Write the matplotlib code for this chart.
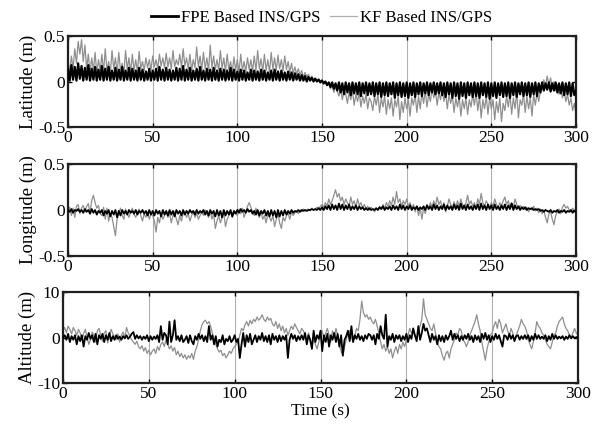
import numpy as np
import matplotlib
matplotlib.use("Agg")
import matplotlib.pyplot as plt

plt.rcParams['font.family'] = ['Liberation Serif', 'DejaVu Serif']

time_s = list(range(0, 301))

lat_kf = [0.22,0.10,0.28,0.14,0.36,0.20,0.44,0.30,0.46,0.22,
          0.40,0.14,0.30,0.10,0.26,0.12,0.32,0.09,0.24,0.12,
          0.30,0.10,0.36,0.12,0.22,0.09,0.34,0.14,0.26,0.10,
          0.32,0.12,0.20,0.08,0.34,0.13,0.26,0.10,0.30,0.12,
          0.24,0.11,0.33,0.14,0.22,0.12,0.26,0.15,0.24,0.13,
          0.28,0.16,0.24,0.14,0.30,0.17,0.26,0.15,0.31,0.16,
          0.26,0.14,0.34,0.16,0.24,0.18,0.30,0.15,0.36,0.17,
          0.26,0.14,0.30,0.12,0.24,0.15,0.38,0.16,0.28,0.13,
          0.32,0.14,0.26,0.12,0.40,0.15,0.28,0.13,0.24,0.12,
          0.34,0.14,0.26,0.11,0.30,0.13,0.22,0.10,0.27,0.12,
          0.24,0.10,0.30,0.12,0.22,0.11,0.26,0.13,0.24,0.11,
          0.28,0.12,0.34,0.14,0.25,0.11,0.30,0.12,0.24,0.10,
          0.32,0.13,0.26,0.12,0.29,0.14,0.24,0.12,0.28,0.13,
          0.22,0.10,0.20,0.09,0.16,0.08,0.14,0.07,0.12,0.05,
          0.10,0.05,0.08,0.03,0.06,0.02,0.04,0.01,0.03,0.00,
          0.02,-0.03,0.00,-0.04,-0.02,-0.08,-0.04,-0.12,-0.06,-0.10,
          -0.16,-0.08,-0.20,-0.10,-0.14,-0.24,-0.12,-0.20,-0.10,-0.26,
          -0.14,-0.22,-0.12,-0.28,-0.16,-0.24,-0.14,-0.30,-0.18,-0.22,
          -0.32,-0.16,-0.26,-0.14,-0.34,-0.18,-0.28,-0.16,-0.36,-0.20,
          -0.30,-0.18,-0.38,-0.20,-0.28,-0.16,-0.42,-0.22,-0.34,-0.18,
          -0.30,-0.20,-0.38,-0.18,-0.26,-0.14,-0.34,-0.16,-0.30,-0.12,
          -0.24,-0.10,-0.28,-0.14,-0.22,-0.08,-0.18,-0.10,-0.26,-0.12,
          -0.20,-0.08,-0.22,-0.12,-0.30,-0.14,-0.24,-0.16,-0.34,-0.18,
          -0.28,-0.16,-0.38,-0.20,-0.30,-0.18,-0.36,-0.20,-0.28,-0.14,
          -0.26,-0.12,-0.32,-0.16,-0.40,-0.20,-0.30,-0.16,-0.36,-0.18,
          -0.30,-0.20,-0.42,-0.22,-0.34,-0.18,-0.44,-0.24,-0.32,-0.16,
          -0.28,-0.14,-0.36,-0.18,-0.30,-0.12,-0.40,-0.20,-0.26,-0.14,
          -0.34,-0.16,-0.30,-0.18,-0.38,-0.14,-0.26,-0.12,-0.22,-0.10,
          -0.08,0.02,-0.06,0.06,-0.04,0.04,-0.08,0.00,-0.10,-0.04,
          -0.14,-0.06,-0.18,-0.10,-0.22,-0.14,-0.26,-0.18,-0.32,-0.24,
          -0.36]

lat_fpe = [0.14,0.01,0.18,0.02,0.16,0.01,0.20,0.03,0.17,0.01,
           0.15,0.02,0.18,0.01,0.14,0.02,0.16,0.01,0.13,0.02,
           0.17,0.01,0.14,0.02,0.16,0.01,0.12,0.02,0.15,0.01,
           0.13,0.02,0.16,0.01,0.12,0.02,0.15,0.01,0.14,0.02,
           0.12,0.01,0.15,0.02,0.13,0.01,0.11,0.02,0.14,0.01,
           0.12,0.02,0.14,0.01,0.16,0.02,0.13,0.01,0.15,0.02,
           0.13,0.01,0.12,0.02,0.15,0.01,0.14,0.02,0.17,0.01,
           0.13,0.02,0.15,0.01,0.12,0.02,0.14,0.01,0.16,0.02,
           0.12,0.01,0.14,0.02,0.13,0.01,0.15,0.02,0.12,0.01,
           0.14,0.02,0.13,0.01,0.12,0.02,0.15,0.01,0.13,0.02,
           0.11,0.01,0.13,0.02,0.12,0.01,0.10,0.02,0.13,0.01,
           0.12,0.02,0.11,0.01,0.13,0.02,0.12,0.01,0.10,0.02,
           0.12,0.01,0.13,0.02,0.11,0.01,0.12,0.02,0.10,0.01,
           0.11,0.02,0.10,0.01,0.09,0.02,0.08,0.01,0.07,0.01,
           0.06,0.00,0.05,0.01,0.04,0.00,0.03,0.00,0.02,-0.01,
           0.01,-0.02,0.00,-0.04,-0.01,-0.06,-0.01,-0.08,-0.02,-0.10,
           -0.01,-0.12,-0.02,-0.14,-0.01,-0.12,-0.02,-0.15,-0.01,-0.13,
           -0.02,-0.14,-0.01,-0.16,-0.02,-0.13,-0.01,-0.15,-0.02,-0.14,
           -0.01,-0.16,-0.02,-0.14,-0.01,-0.17,-0.02,-0.15,-0.01,-0.16,
           -0.02,-0.14,-0.01,-0.18,-0.02,-0.15,-0.01,-0.17,-0.02,-0.16,
           -0.01,-0.18,-0.02,-0.15,-0.01,-0.17,-0.02,-0.14,-0.01,-0.16,
           -0.02,-0.13,-0.01,-0.15,-0.02,-0.12,-0.01,-0.14,-0.02,-0.13,
           -0.01,-0.15,-0.02,-0.17,-0.01,-0.14,-0.02,-0.18,-0.01,-0.16,
           -0.02,-0.19,-0.01,-0.16,-0.02,-0.18,-0.01,-0.15,-0.02,-0.17,
           -0.01,-0.16,-0.02,-0.18,-0.01,-0.15,-0.02,-0.17,-0.01,-0.19,
           -0.02,-0.16,-0.01,-0.18,-0.02,-0.15,-0.01,-0.17,-0.02,-0.16,
           -0.01,-0.18,-0.02,-0.15,-0.01,-0.17,-0.02,-0.14,-0.01,-0.16,
           -0.02,-0.15,-0.01,-0.17,-0.02,-0.14,-0.01,-0.16,-0.02,-0.12,
           -0.01,-0.10,-0.02,-0.09,-0.01,-0.11,-0.02,-0.10,-0.01,-0.12,
           -0.02,-0.13,-0.01,-0.15,-0.02,-0.14,-0.01,-0.16,-0.02,-0.15,
           -0.10]

lon_kf = [-0.02,0.03,-0.06,0.02,-0.08,0.04,0.06,-0.04,0.02,0.05,
          -0.02,0.04,0.07,-0.03,0.10,0.16,0.08,0.02,0.05,-0.04,
          -0.06,0.03,-0.10,0.02,-0.12,-0.04,-0.08,-0.18,-0.28,-0.10,
          -0.04,0.02,-0.06,-0.10,0.01,-0.04,-0.08,-0.02,0.02,-0.05,
          -0.08,-0.02,0.01,-0.06,-0.12,-0.04,-0.08,-0.02,-0.10,-0.04,
          -0.06,-0.12,-0.24,-0.08,-0.14,-0.04,-0.10,-0.06,-0.02,-0.08,
          -0.04,-0.14,-0.06,-0.02,-0.10,-0.16,-0.06,-0.12,-0.04,-0.02,
          -0.08,-0.04,-0.12,-0.06,-0.02,-0.08,-0.04,-0.10,-0.06,-0.02,
          -0.06,0.00,-0.04,-0.08,-0.02,-0.10,-0.04,-0.20,-0.12,-0.06,
          -0.14,-0.08,-0.04,-0.18,-0.10,-0.06,-0.02,-0.08,-0.04,-0.02,
          -0.06,0.01,-0.04,0.02,-0.08,-0.02,0.04,0.08,0.03,-0.02,
          -0.06,0.02,-0.04,-0.08,-0.02,-0.10,-0.06,-0.14,-0.04,-0.08,
          -0.12,-0.06,-0.18,-0.10,-0.04,-0.14,-0.20,-0.08,-0.12,-0.06,
          -0.04,-0.10,-0.02,-0.06,-0.03,-0.01,-0.04,0.00,-0.02,0.01,
          -0.01,0.00,0.01,-0.01,0.02,0.00,0.01,0.03,0.02,0.04,
          0.06,0.03,0.08,0.04,0.12,0.06,0.10,0.16,0.22,0.14,
          0.18,0.10,0.14,0.06,0.12,0.08,0.04,0.14,0.06,0.10,
          0.03,0.12,0.05,0.08,0.02,0.06,0.01,0.04,0.00,0.03,
          0.01,-0.02,0.02,0.00,0.04,0.01,0.06,0.02,0.08,0.04,
          0.10,0.05,0.14,0.06,0.20,0.08,0.12,0.04,0.10,0.06,
          0.12,0.04,0.08,0.02,0.06,-0.02,0.04,-0.06,0.02,-0.10,
          0.03,-0.04,0.06,0.02,0.08,0.03,0.10,0.04,0.14,0.06,
          0.10,0.02,0.08,-0.02,0.04,0.12,0.06,0.02,0.09,0.03,
          0.10,0.04,0.12,0.06,0.02,0.08,0.16,0.06,0.10,0.04,
          0.08,0.02,0.12,0.06,0.18,0.08,0.04,0.10,0.06,0.02,
          0.08,0.04,0.12,0.06,0.02,0.08,0.04,0.10,0.14,0.06,
          0.10,0.04,0.08,0.03,0.12,0.06,0.02,0.05,0.01,0.04,
          0.00,0.03,-0.02,0.02,0.00,0.04,-0.01,0.02,-0.03,0.01,
          -0.04,0.00,-0.08,-0.14,-0.04,-0.02,-0.10,-0.16,-0.06,-0.02,
          0.01,-0.04,0.03,0.06,0.02,0.04,0.00,-0.02,0.02,0.00,
          -0.04]

lon_fpe = [0.00,-0.02,0.01,-0.03,0.00,-0.01,0.01,-0.02,0.00,-0.03,
           0.01,-0.02,0.00,-0.04,0.01,-0.03,0.00,-0.05,-0.01,-0.03,
           0.00,-0.06,-0.01,-0.04,0.00,-0.07,-0.01,-0.05,0.00,-0.08,
           -0.01,-0.06,0.00,-0.04,-0.01,-0.05,0.00,-0.03,-0.01,-0.04,
           0.00,-0.05,-0.01,-0.03,0.00,-0.04,-0.01,-0.06,0.00,-0.05,
           -0.01,-0.06,0.00,-0.04,-0.01,-0.07,0.00,-0.05,-0.01,-0.06,
           0.00,-0.05,-0.01,-0.07,0.00,-0.04,-0.01,-0.06,0.00,-0.05,
           -0.01,-0.04,0.00,-0.03,-0.01,-0.05,0.00,-0.04,-0.01,-0.03,
           0.00,-0.05,-0.01,-0.06,0.00,-0.04,-0.01,-0.07,0.00,-0.06,
           -0.01,-0.08,0.00,-0.06,-0.01,-0.05,0.00,-0.07,-0.01,-0.04,
           0.00,-0.03,0.01,-0.02,0.00,-0.03,0.01,-0.02,0.00,-0.04,
           -0.01,-0.05,0.00,-0.06,-0.01,-0.04,0.00,-0.06,-0.01,-0.07,
           0.00,-0.06,-0.01,-0.08,0.00,-0.07,-0.01,-0.06,0.00,-0.05,
           -0.01,-0.04,0.00,-0.03,-0.01,-0.02,0.00,-0.02,0.00,-0.01,
           0.00,-0.01,0.00,0.00,0.01,0.00,0.01,0.00,0.02,0.00,
           0.03,0.00,0.04,0.01,0.05,0.00,0.06,0.01,0.05,0.00,
           0.07,0.01,0.06,0.00,0.05,0.01,0.06,0.00,0.04,0.01,
           0.05,0.00,0.04,0.01,0.03,0.00,0.02,0.00,0.02,0.00,
           0.01,0.00,0.02,0.00,0.03,0.01,0.04,0.00,0.03,0.01,
           0.04,0.00,0.05,0.01,0.04,0.00,0.06,0.01,0.05,0.00,
           0.04,0.01,0.05,0.00,0.03,0.01,0.04,0.00,0.03,0.01,
           0.04,0.00,0.05,0.01,0.04,0.00,0.06,0.01,0.05,0.00,
           0.04,0.01,0.06,0.00,0.05,0.01,0.04,0.00,0.06,0.01,
           0.05,0.00,0.07,0.01,0.05,0.00,0.06,0.01,0.04,0.00,
           0.05,0.01,0.06,0.00,0.07,0.01,0.05,0.00,0.06,0.01,
           0.05,0.00,0.06,0.01,0.04,0.00,0.05,0.01,0.06,0.00,
           0.05,0.01,0.07,0.00,0.05,0.01,0.04,0.00,0.03,0.01,
           0.03,0.00,0.02,0.01,0.02,0.00,0.01,0.00,0.01,-0.01,
           0.00,-0.02,0.00,-0.01,-0.02,0.00,-0.03,-0.01,-0.02,0.00,
           -0.03,-0.01,-0.02,0.00,-0.03,-0.01,-0.02,0.00,-0.03,-0.01,
           -0.02]

alt_kf = [1.5,2.2,1.0,2.5,1.8,0.8,2.2,1.5,0.5,1.8,
          1.0,-0.5,0.8,1.8,0.2,-1.5,-0.5,1.2,0.5,-1.0,
          1.5,2.0,0.5,-0.8,1.0,1.5,-1.2,0.3,1.8,0.8,
          0.2,-0.5,0.8,-1.0,0.5,1.2,0.0,2.2,1.0,0.3,
          -0.5,-1.0,-1.5,-0.8,-2.0,-2.5,-1.8,-3.0,-2.2,-3.5,
          -2.8,-3.8,-3.0,-2.5,-3.5,-2.0,-2.8,-1.5,-1.0,-2.0,
          -0.5,-1.5,-2.5,-1.8,-3.0,-2.2,-3.8,-3.0,-4.2,-3.5,
          -4.5,-3.8,-4.8,-4.0,-4.5,-3.5,-4.8,-3.0,-2.0,-0.5,
          1.5,2.8,3.5,3.8,3.0,3.5,2.5,1.0,-0.5,-1.5,
          -2.5,-3.2,-2.8,-4.0,-3.5,-4.5,-3.8,-3.0,-3.5,-2.5,
          -2.0,-1.5,-1.0,0.5,2.0,1.5,2.8,3.5,2.5,3.8,
          3.0,4.0,3.5,4.5,3.8,4.2,5.0,4.0,3.5,4.5,
          3.8,4.2,3.0,2.5,3.5,2.0,3.0,1.5,2.5,1.0,
          2.0,0.5,1.5,2.5,1.8,3.0,2.2,1.5,0.8,2.0,
          1.5,0.5,-0.5,1.0,-1.0,-2.0,0.0,-1.5,-2.5,-1.0,
          0.5,1.5,-0.5,1.0,2.0,0.5,-1.0,1.5,0.0,2.0,
          0.5,-1.5,-3.0,-4.0,-2.0,-0.5,1.0,1.5,0.0,-1.0,
          0.5,2.0,1.5,4.0,8.0,5.5,4.5,5.0,4.0,4.5,
          3.5,3.0,4.0,2.5,1.0,-1.0,-2.5,-1.5,-3.0,-2.0,
          -3.5,-2.5,-4.5,-3.0,-2.0,-3.5,-1.5,-2.5,-1.0,-2.0,
          -0.5,0.5,2.0,1.0,1.5,0.5,-0.5,1.0,2.5,4.0,
          8.5,5.0,4.0,3.0,2.0,1.5,3.0,1.0,-1.0,-2.0,
          -2.5,-4.0,-5.0,-3.5,-3.0,-4.5,-2.5,-1.5,-0.5,1.0,
          0.5,2.0,1.5,-0.5,-1.0,-2.0,-1.0,0.5,1.5,2.5,
          3.5,5.0,3.0,1.5,-1.0,-3.0,-5.0,-2.5,-1.0,0.5,
          1.0,2.5,3.5,2.0,4.0,3.0,1.0,2.0,3.0,1.5,
          0.5,2.0,1.0,-0.5,0.5,1.5,2.5,4.0,3.0,2.5,
          1.5,-0.5,-1.5,-2.5,-1.0,1.0,3.5,2.5,2.0,1.0,
          0.5,-0.5,-1.5,-2.0,-2.5,-1.0,0.5,1.0,2.5,3.5,
          4.0,4.5,3.0,2.0,1.5,0.5,0.0,1.0,2.0,1.0,
          0.5]

alt_fpe = [0.0,0.5,-0.5,0.8,-1.0,0.3,-0.5,0.5,-1.5,0.3,
           -0.8,0.5,-2.0,0.3,-0.5,1.0,-0.3,0.5,-1.0,0.8,
           -1.5,0.5,-0.3,0.8,-1.0,0.5,-0.5,1.0,-0.8,0.3,
           -0.5,0.5,-0.3,0.2,-0.5,0.3,-0.2,0.5,-0.3,0.2,
           0.8,1.2,-0.3,0.5,-0.2,0.3,-0.5,0.2,-0.3,0.5,
           -0.8,0.3,-0.5,0.2,-0.3,0.5,-1.0,2.5,-0.5,1.0,
           0.5,-1.5,3.5,-1.0,0.5,3.8,-0.5,0.3,-0.8,0.5,
           -1.0,-0.5,0.3,-1.2,0.5,-0.8,-1.5,0.3,-0.5,0.8,
           -0.3,0.5,-0.8,0.3,-1.0,2.5,-0.5,0.5,-1.5,0.3,
           -2.0,-0.5,-1.0,0.5,-1.5,-0.3,-0.8,0.3,-1.0,-0.5,
           0.5,-1.0,-0.3,-4.5,-1.5,1.0,-2.0,0.5,-1.0,0.8,
           -1.5,-0.5,0.5,-1.0,0.3,-0.5,1.0,-0.8,0.3,-1.0,
           0.5,-1.5,0.8,-0.5,0.3,-1.0,0.5,-0.8,0.3,-0.5,
           0.5,-4.5,-0.5,0.8,-0.3,0.5,-0.8,0.3,-0.5,0.5,
           -0.5,1.0,-1.5,0.5,-0.5,-2.5,1.5,-1.0,0.5,-0.3,
           1.5,-3.0,0.5,-1.0,0.8,-2.0,0.5,-0.5,1.0,-1.0,
           0.8,-2.0,0.5,-4.0,-0.5,0.3,1.5,-0.8,2.5,-1.0,
           0.5,-0.3,0.8,-0.5,0.3,-0.8,0.5,-0.3,0.8,0.5,
           -0.5,0.5,-1.5,0.8,-0.3,2.5,0.5,-0.3,5.0,-2.0,
           0.3,-0.5,0.8,-1.0,0.5,-0.3,0.5,-0.8,0.3,-0.5,
           0.8,-1.0,0.5,-0.3,2.0,0.5,-0.8,2.5,-0.5,1.0,
           3.0,1.5,2.0,0.5,-1.0,0.8,-0.5,0.3,-1.5,0.5,
           -0.8,0.3,-1.0,0.5,-0.5,0.3,1.5,-0.5,0.8,-0.3,
           0.5,-0.8,0.3,-0.5,0.5,-0.3,0.8,-0.5,0.3,-1.0,
           0.5,-0.5,0.3,-1.0,0.8,-0.3,1.0,-0.5,0.5,-1.0,
           0.3,-0.5,0.8,-0.3,0.5,-0.8,-2.0,0.5,0.3,-0.5,
           0.8,-0.3,0.5,-0.8,0.3,0.5,-0.5,0.3,-0.3,0.5,
           -0.3,0.5,-0.8,0.3,-0.5,0.8,-0.3,0.5,-0.3,0.2,
           -0.3,0.5,-0.8,0.3,-0.5,0.8,-0.3,0.5,-0.3,0.2,
           -0.2,0.3,-0.5,0.2,-0.3,0.5,-0.2,0.3,-0.2,0.1,
           0.0]

xticks = [0, 50, 100, 150, 200, 250, 300]
panels = [
    ("Latitude (m)", lat_fpe, lat_kf, [-0.5, 0, 0.5], ["-0.5", "0", "0.5"], (-0.5, 0.5)),
    ("Longitude (m)", lon_fpe, lon_kf, [-0.5, 0, 0.5], ["-0.5", "0", "0.5"], (-0.5, 0.5)),
    ("Altitude (m)", alt_fpe, alt_kf, [-10, 0, 10], ["-10", "0", "10"], (-10, 10)),
]

W, H = 596, 430
fig = plt.figure(figsize=(W / 100, H / 100), dpi=100)
boxes = [(68, 576, 36, 127), (68, 576, 164, 256), (63, 578, 292, 383)]
fpe_lw = [1.6, 1.3, 1.3]

gray = '#8f8f8f'
for i, ((lab, fpe, kf, yt, ytl, ylim), (x0, x1, y0, y1)) in enumerate(zip(panels, boxes)):
    ax = fig.add_axes([x0 / W, 1 - y1 / H, (x1 - x0) / W, (y1 - y0) / H])
    lk, = ax.plot(time_s, kf, color=gray, lw=0.9, zorder=2)
    lf, = ax.plot(time_s, fpe, color='black', lw=fpe_lw[i], zorder=3)
    ax.set_xlim(0, 300)
    ax.set_ylim(*ylim)
    ax.set_xticks(xticks)
    ax.set_xticklabels([str(v) for v in xticks])
    ax.set_yticks(yt)
    ax.set_yticklabels(ytl)
    ax.xaxis.grid(True, color='#b0b0b0', lw=0.8)
    ax.set_axisbelow(True)
    ax.tick_params(direction='in', top=True, right=True, labelsize=12.5, length=3, width=1, pad=2)
    for s in ax.spines.values():
        s.set_linewidth(1.6)
        s.set_color('#202020')
    ax.set_ylabel(lab, fontsize=13.5, labelpad=1)
    if i == 0:
        leg = fig.legend([lf, lk], ["FPE Based INS/GPS", "KF Based INS/GPS"],
                         loc='center', bbox_to_anchor=(0.54, 1 - 18 / H), ncol=2,
                         frameon=False, fontsize=12, handlelength=1.6, handletextpad=0.2,
                         columnspacing=0.6)
        leg.get_lines()[0].set_linewidth(2.0)
        leg.get_lines()[1].set_color('#b0b0b0')
    if i == 2:
        ax.set_xlabel("Time (s)", fontsize=12.5, labelpad=1)

fig.savefig("out.png", dpi=100)
